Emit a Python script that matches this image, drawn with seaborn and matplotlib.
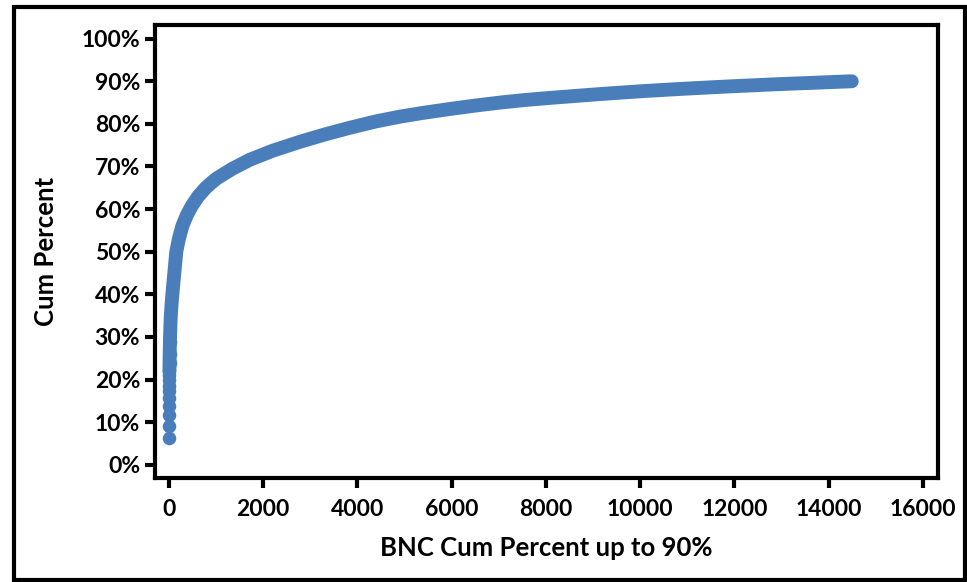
import matplotlib
matplotlib.use("Agg")
import matplotlib.pyplot as plt
from matplotlib.patches import Rectangle
from matplotlib.ticker import PercentFormatter, MultipleLocator
import seaborn as sns
import pandas as pd

# Word rank (most frequent first) and cumulative share of running text
top_rank = [1, 2, 3, 4, 5, 6, 7, 8, 9, 10, 12, 15, 20]
top_cum = [0.062, 0.092, 0.116, 0.139, 0.156, 0.172, 0.186, 0.199, 0.210,
           0.220, 0.238, 0.260, 0.288]

tail_rank = [10, 12, 15, 20, 30, 40, 57, 80, 106, 155, 210, 283, 380, 481,
             620, 764, 880, 1012, 1350, 1719, 2200, 2780, 3300, 3841, 4400,
             4902, 5400, 5963, 6500, 7024, 7550, 8085, 9146, 10000, 10844,
             11800, 12880, 14488]
tail_cum = [0.220, 0.238, 0.260, 0.288, 0.326, 0.352, 0.380, 0.410, 0.441,
            0.500, 0.530, 0.560, 0.586, 0.607, 0.630, 0.648, 0.660, 0.672,
            0.695, 0.716, 0.737, 0.758, 0.775, 0.791, 0.806, 0.817, 0.826,
            0.835, 0.843, 0.850, 0.856, 0.861, 0.870, 0.8765, 0.882,
            0.8875, 0.893, 0.900]

x_ticks = [0, 2000, 4000, 6000, 8000, 10000, 12000, 14000, 16000]
x_title = "BNC Cum Percent up to 90%"
y_title = "Cum Percent"

BLUE = "#4A7EBB"

sns.set_theme(style="white")
plt.rcParams["font.family"] = ["Lato", "DejaVu Sans"]
plt.rcParams["font.weight"] = "bold"

fig = plt.figure(figsize=(9.67, 5.82), dpi=100)
ax = fig.add_axes([0.1608, 0.1787, 0.970 - 0.1608, 0.957 - 0.1787])

tail = pd.DataFrame({"rank": tail_rank, "cum": tail_cum})
top = pd.DataFrame({"rank": top_rank, "cum": top_cum})

sns.lineplot(data=tail, x="rank", y="cum", ax=ax, color=BLUE, lw=10,
             solid_capstyle="round", solid_joinstyle="round")
sns.scatterplot(data=top, x="rank", y="cum", ax=ax, color=BLUE, s=95,
                linewidth=0, zorder=3)

ax.set_xlim(-286, 16318)
ax.set_ylim(-0.031, 1.032)
ax.set_xticks(x_ticks)
ax.yaxis.set_major_locator(MultipleLocator(0.1))
ax.yaxis.set_major_formatter(PercentFormatter(1.0, decimals=0))

for s in ax.spines.values():
    s.set_linewidth(3)
    s.set_color("black")

ax.tick_params(axis="both", which="major", length=7, width=3, color="black",
               labelsize=16.5, labelcolor="black", bottom=True, left=True)
ax.tick_params(axis="x", pad=8)
ax.tick_params(axis="y", pad=4)
for lab in ax.get_xticklabels() + ax.get_yticklabels():
    lab.set_fontweight("bold")

ax.set_xlabel(x_title, fontsize=18.5, fontweight="bold", color="black", labelpad=12)
ax.set_ylabel(y_title, fontsize=18.5, fontweight="bold", color="black", labelpad=17)

# Outer frame around the whole figure
fig.patches.append(Rectangle((0.014, 0.003), 0.984, 0.985, transform=fig.transFigure,
                             fill=False, edgecolor="black", linewidth=3))

fig.savefig("out.png", dpi=100)
